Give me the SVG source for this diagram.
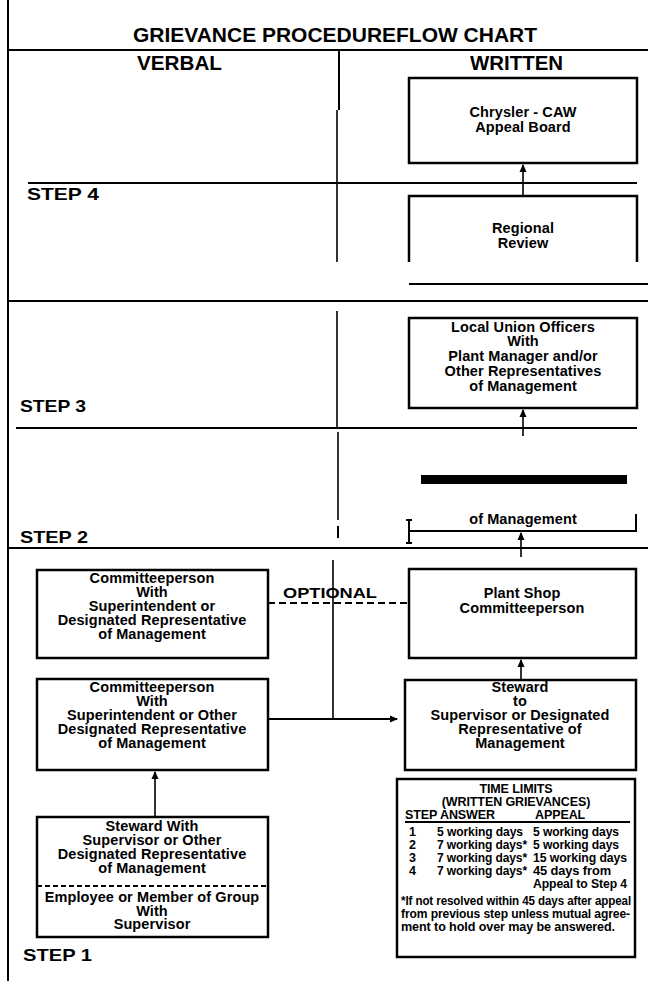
<svg xmlns="http://www.w3.org/2000/svg" width="648" height="981" viewBox="0 0 648 981">
<defs>
<marker id="ah" markerWidth="8" markerHeight="8" refX="7" refY="4" orient="auto" markerUnits="userSpaceOnUse"><path d="M0,0.5 L8,4 L0,7.5 Z" fill="#000"/></marker>
<style>
.t{font-family:"Liberation Sans",Arial,Helvetica,sans-serif;font-weight:bold;fill:#000}
.bx{fill:none;stroke:#000;stroke-width:2.5}
.ln{stroke:#000;fill:none;stroke-width:2}
.thin{stroke:#000;fill:none;stroke-width:1.6}
.c{text-anchor:middle;font-size:14.5px;letter-spacing:0.1px}
.tl{font-size:12.5px;letter-spacing:-0.1px}
.step{font-size:17px}
</style>
</defs>
<rect width="648" height="981" fill="#fff"/>

<g id="frame">
<line class="ln" x1="8" y1="0" x2="8" y2="981"/>
<text class="t" x="335" y="42" font-size="21" text-anchor="middle" textLength="404" lengthAdjust="spacingAndGlyphs">GRIEVANCE PROCEDUREFLOW CHART</text>
<line class="ln" x1="8" y1="50" x2="648" y2="50" stroke-width="2.5"/>
<text class="t" x="137" y="70" font-size="21" textLength="85" lengthAdjust="spacingAndGlyphs">VERBAL</text>
<text class="t" x="470" y="70" font-size="21" textLength="93" lengthAdjust="spacingAndGlyphs">WRITTEN</text>
<line class="ln" x1="339" y1="50" x2="339" y2="110" stroke-width="3"/>
<line class="thin" x1="337" y1="110" x2="337" y2="262"/>
<line class="ln" x1="28" y1="183" x2="637" y2="183" stroke-width="2.5"/>
<text class="t step" x="27" y="200" textLength="72" lengthAdjust="spacingAndGlyphs">STEP 4</text>
<line class="ln" x1="409" y1="284" x2="648" y2="284" stroke-width="2.5"/>
<line class="ln" x1="8" y1="301" x2="648" y2="301" stroke-width="4"/>
<line class="thin" x1="337" y1="311" x2="337" y2="429"/>
<text class="t step" x="20" y="412" textLength="66" lengthAdjust="spacingAndGlyphs">STEP 3</text>
<line class="ln" x1="16" y1="428" x2="637" y2="428"/>
<line class="thin" x1="338" y1="432" x2="338" y2="520"/>
<line class="ln" x1="338" y1="526" x2="338" y2="538" stroke-width="2.5"/>
<rect x="421" y="475" width="206" height="9" fill="#000"/>
<text class="t step" x="20" y="543" textLength="68" lengthAdjust="spacingAndGlyphs">STEP 2</text>
<line class="ln" x1="8" y1="548" x2="648" y2="548" stroke-width="2.5"/>
<text class="t step" x="23" y="961" textLength="69" lengthAdjust="spacingAndGlyphs">STEP 1</text>
</g>

<g id="step2-frag">
<text class="t c" x="523" y="524">of Management</text>
<line class="ln" x1="409" y1="531" x2="637" y2="531"/>
<line class="ln" x1="409" y1="520" x2="409" y2="543" stroke-width="1.5"/>
<line class="ln" x1="406" y1="520" x2="412" y2="520" stroke-width="1"/>
<line class="ln" x1="406" y1="543" x2="412" y2="543" stroke-width="1"/>
<line class="ln" x1="636" y1="514" x2="636" y2="531" stroke-width="2.5"/>
</g>

<g id="n-appeal">
<rect class="bx" x="409" y="78" width="228" height="85"/>
<text class="t c" x="523" y="117">Chrysler - CAW</text>
<text class="t c" x="523" y="132">Appeal Board</text>
</g>

<g id="n-regional">
<path class="bx" d="M409,262 L409,196 L637,196 L637,262"/>
<text class="t c" x="523" y="233">Regional</text>
<text class="t c" x="523" y="248">Review</text>
</g>

<g id="n-local">
<rect class="bx" x="409" y="318" width="228" height="90"/>
<text class="t c" x="523" y="332">Local Union Officers</text>
<text class="t c" x="523" y="346">With</text>
<text class="t c" x="523" y="361">Plant Manager and/or</text>
<text class="t c" x="523" y="376">Other Representatives</text>
<text class="t c" x="523" y="391">of Management</text>
</g>

<g id="n-comm-sup">
<rect class="bx" x="37" y="570" width="231" height="88"/>
<text class="t c" x="152" y="583">Committeeperson</text>
<text class="t c" x="152" y="597">With</text>
<text class="t c" x="152" y="611">Superintendent or</text>
<text class="t c" x="152" y="625">Designated Representative</text>
<text class="t c" x="152" y="639">of Management</text>
</g>

<g id="n-plantshop">
<rect class="bx" x="409" y="569" width="227" height="89"/>
<text class="t c" x="522" y="598">Plant Shop</text>
<text class="t c" x="522" y="613">Committeeperson</text>
</g>

<g id="n-comm-other">
<rect class="bx" x="37" y="679" width="231" height="91"/>
<text class="t c" x="152" y="692">Committeeperson</text>
<text class="t c" x="152" y="706">With</text>
<text class="t c" x="152" y="720">Superintendent or Other</text>
<text class="t c" x="152" y="734">Designated Representative</text>
<text class="t c" x="152" y="748">of Management</text>
</g>

<g id="n-steward">
<rect class="bx" x="405" y="680" width="231" height="90"/>
<text class="t c" x="520" y="692">Steward</text>
<text class="t c" x="520" y="706">to</text>
<text class="t c" x="520" y="720">Supervisor or Designated</text>
<text class="t c" x="520" y="734">Representative of</text>
<text class="t c" x="520" y="748">Management</text>
</g>

<g id="n-steward-with">
<rect class="bx" x="37" y="817" width="231" height="120"/>
<text class="t c" x="152" y="831">Steward With</text>
<text class="t c" x="152" y="845">Supervisor or Other</text>
<text class="t c" x="152" y="859">Designated Representative</text>
<text class="t c" x="152" y="873">of Management</text>
<line class="ln" x1="37" y1="886" x2="268" y2="886" stroke-dasharray="5,3"/>
<text class="t c" x="152" y="902">Employee or Member of Group</text>
<text class="t c" x="152" y="916">With</text>
<text class="t c" x="152" y="929">Supervisor</text>
</g>

<g id="n-timelimits">
<rect class="bx" x="397" y="779" width="238" height="178"/>
<text class="t tl" x="516" y="793" text-anchor="middle">TIME LIMITS</text>
<text class="t tl" x="516" y="806" text-anchor="middle">(WRITTEN GRIEVANCES)</text>
<text class="t tl" x="405" y="819">STEP</text>
<text class="t tl" x="440" y="819">ANSWER</text>
<text class="t tl" x="535" y="819">APPEAL</text>
<line class="ln" x1="405" y1="822" x2="630" y2="822" stroke-width="1.5"/>
<text class="t tl" x="409" y="836">1</text>
<text class="t tl" x="409" y="849">2</text>
<text class="t tl" x="409" y="862">3</text>
<text class="t tl" x="409" y="875">4</text>
<text class="t tl" x="437" y="836" textLength="86" lengthAdjust="spacingAndGlyphs">5 working days</text>
<text class="t tl" x="437" y="849" textLength="90" lengthAdjust="spacingAndGlyphs">7 working days*</text>
<text class="t tl" x="437" y="862" textLength="90" lengthAdjust="spacingAndGlyphs">7 working days*</text>
<text class="t tl" x="437" y="875" textLength="90" lengthAdjust="spacingAndGlyphs">7 working days*</text>
<text class="t tl" x="533" y="836" textLength="86" lengthAdjust="spacingAndGlyphs">5 working days</text>
<text class="t tl" x="533" y="849" textLength="86" lengthAdjust="spacingAndGlyphs">5 working days</text>
<text class="t tl" x="533" y="862" textLength="94" lengthAdjust="spacingAndGlyphs">15 working days</text>
<text class="t tl" x="533" y="875" textLength="78" lengthAdjust="spacingAndGlyphs">45 days from</text>
<text class="t tl" x="533" y="888" textLength="94" lengthAdjust="spacingAndGlyphs">Appeal to Step 4</text>
<text class="t tl" x="401" y="905" textLength="230" lengthAdjust="spacingAndGlyphs">*If not resolved within 45 days after appeal</text>
<text class="t tl" x="401" y="918" textLength="229" lengthAdjust="spacingAndGlyphs">from previous step unless mutual agree-</text>
<text class="t tl" x="401" y="931" textLength="214" lengthAdjust="spacingAndGlyphs">ment to hold over may be answered.</text>
</g>

<g id="connectors">
<line class="thin" x1="523" y1="195" x2="523" y2="165" marker-end="url(#ah)"/>
<line class="thin" x1="523" y1="436" x2="523" y2="410" marker-end="url(#ah)"/>
<line class="thin" x1="521" y1="557" x2="521" y2="533" marker-end="url(#ah)"/>
<line class="thin" x1="521" y1="679" x2="521" y2="660" marker-end="url(#ah)"/>
<line class="thin" x1="155" y1="816" x2="155" y2="772" marker-end="url(#ah)"/>
<line class="thin" x1="333" y1="560" x2="333" y2="719"/>
<line class="ln" x1="268" y1="719" x2="397" y2="719" marker-end="url(#ah)"/>
<line class="ln" x1="268" y1="603" x2="409" y2="603" stroke-dasharray="7,4"/>
<text class="t" x="283" y="598" font-size="14" textLength="94" lengthAdjust="spacingAndGlyphs">OPTIONAL</text>
</g>
</svg>
